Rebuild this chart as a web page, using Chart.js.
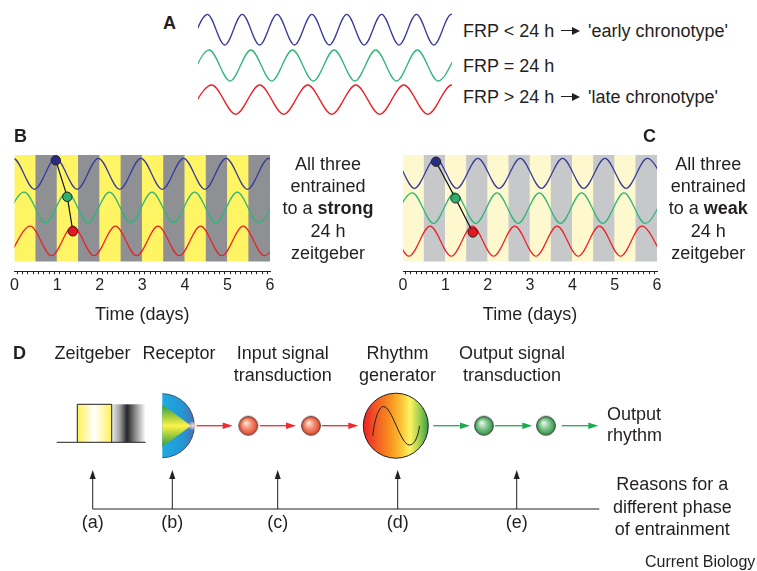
<!DOCTYPE html>
<html><head><meta charset="utf-8"><title>Entrainment of chronotypes</title>
<script src="https://cdn.jsdelivr.net/npm/chart.js@4.4.1/dist/chart.umd.min.js"></script>
<style>
html,body{margin:0;padding:0;background:#fff;}
body{width:757px;height:571px;position:relative;overflow:hidden;font-family:"Liberation Sans",Arial,Helvetica,sans-serif;color:#231f20;}
canvas{position:absolute;}
.t{position:absolute;font-size:18px;line-height:22px;white-space:nowrap;}
.blk{position:absolute;font-size:18px;line-height:22.4px;white-space:nowrap;text-align:center;width:200px;}
.b{font-weight:bold;}
.arr{position:absolute;width:19px;height:8px;}
.arr:before{content:"";position:absolute;left:0;top:3.2px;width:12px;height:1.6px;background:#231f20;}
.arr:after{content:"";position:absolute;right:0;top:0;width:0;height:0;border-left:8px solid #231f20;border-top:4px solid transparent;border-bottom:4px solid transparent;}
</style></head>
<body>
<canvas id="cA" width="254" height="112" style="left:198px;top:8px"></canvas>
<canvas id="cB" width="290" height="185" style="left:0px;top:145px"></canvas>
<canvas id="cC" width="289" height="185" style="left:388px;top:145px"></canvas>
<canvas id="cD" width="757" height="241" style="left:0px;top:330px"></canvas>

<div class="t b" style="left:163px;top:11.5px">A</div>
<div class="t" style="left:463px;top:19.5px">FRP &lt; 24 h</div>
<div class="arr" style="left:561px;top:26.5px"></div>
<div class="t" style="left:588px;top:19.5px">'early chronotype'</div>
<div class="t" style="left:463px;top:54.5px">FRP = 24 h</div>
<div class="t" style="left:463px;top:85.5px">FRP &gt; 24 h</div>
<div class="arr" style="left:561px;top:92.5px"></div>
<div class="t" style="left:588px;top:85.5px">'late chronotype'</div>

<div class="t b" style="left:14px;top:124.5px">B</div>
<div class="blk" style="left:228px;top:152.6px">All three<br>entrained<br>to a <b>strong</b><br>24 h<br>zeitgeber</div>
<div class="t b" style="left:643px;top:124.5px">C</div>
<div class="blk" style="left:608.3px;top:152.6px">All three<br>entrained<br>to a <b>weak</b><br>24 h<br>zeitgeber</div>

<div class="t b" style="left:13px;top:342px">D</div>
<div class="blk" style="left:-7.5px;top:341.9px">Zeitgeber</div>
<div class="blk" style="left:79px;top:341.9px">Receptor</div>
<div class="blk" style="left:182.7px;top:341.9px">Input signal<br>transduction</div>
<div class="blk" style="left:297.5px;top:341.9px">Rhythm<br>generator</div>
<div class="blk" style="left:412px;top:341.9px">Output signal<br>transduction</div>
<div class="t" style="left:607px;top:403.6px;line-height:21.8px">Output<br>rhythm</div>
<div class="blk" style="left:572.3px;top:473.4px;line-height:22.3px">Reasons for a<br>different phase<br>of entrainment</div>
<div class="blk" style="left:-7.3px;top:511.1px;line-height:22px">(a)</div>
<div class="blk" style="left:72.3px;top:511.1px;line-height:22px">(b)</div>
<div class="blk" style="left:177.7px;top:511.1px;line-height:22px">(c)</div>
<div class="blk" style="left:297.7px;top:511.1px;line-height:22px">(d)</div>
<div class="blk" style="left:416.7px;top:511.1px;line-height:22px">(e)</div>
<div class="t" style="left:645px;top:552.8px;font-size:16px;line-height:18px">Current Biology</div>

<script>
// ---------------- DATA ----------------
// Panel A: free-running rhythms; time in hours, successive extrema (trough first)
const aSpanHours = 146.5;
const aBlueExtremaH  = [-4.65, 5.4, 15.45, 25.5, 35.55, 45.6, 55.65, 65.7, 75.75, 85.8, 95.85, 105.9, 115.95, 126.0, 136.05, 146.1, 156.15];
const aBlueLevels    = [75, 105.7];   // [trough, peak]
const aGreenExtremaH = [-5.5, 6.5, 18.5, 30.5, 42.5, 54.5, 66.5, 78.5, 90.5, 102.5, 114.5, 126.5, 138.5, 150.5];
const aGreenLevels   = [39, 70];
const aRedExtremaH   = [-5.95, 7.9, 21.75, 35.6, 49.45, 63.3, 77.15, 91.0, 104.85, 118.7, 132.55, 146.4, 160.25];
const aRedLevels     = [5.7, 35];

// Panels B and C: time in days
const dayTicks  = [0, 1, 2, 3, 4, 5, 6];
const ldPhases  = ['L','D','L','D','L','D','L','D','L','D','L','D'];   // half-day light / dark phases
const phaseDays = 0.5;
const bandLevels = [0, 106];

// Panel B - strong zeitgeber (successive extrema, trough first)
const bBlueExtremaD  = [-0.53, -0.03, 0.47, 0.97, 1.47, 1.97, 2.47, 2.97, 3.47, 3.97, 4.47, 4.97, 5.47, 5.97, 6.47];
const bBlueLevels    = [71.7, 102.7];
const bGreenExtremaD = [-0.27, 0.23, 0.73, 1.23, 1.73, 2.23, 2.73, 3.23, 3.73, 4.23, 4.73, 5.23, 5.73, 6.23];
const bGreenLevels   = [38.5, 69];
const bRedExtremaD   = [-0.13, 0.37, 0.87, 1.37, 1.87, 2.37, 2.87, 3.37, 3.87, 4.37, 4.87, 5.37, 5.87, 6.37];
const bRedLevels     = [5.5, 35];
const bMarkerDays    = [0.97, 1.24, 1.37];
const bMarkerLevels  = [100.7, 64.2, 29.8];

// Panel C - weak zeitgeber
const cBlueExtremaD  = [-0.73, -0.23, 0.27, 0.77, 1.27, 1.77, 2.27, 2.77, 3.27, 3.77, 4.27, 4.77, 5.27, 5.77, 6.27];
const cBlueLevels    = [72.7, 102.7];
const cGreenExtremaD = [-0.28, 0.22, 0.72, 1.22, 1.72, 2.22, 2.72, 3.22, 3.72, 4.22, 4.72, 5.22, 5.72, 6.22];
const cGreenLevels   = [37.7, 68.3];
const cRedExtremaD   = [-0.86, -0.36, 0.14, 0.64, 1.14, 1.64, 2.14, 2.64, 3.14, 3.64, 4.14, 4.64, 5.14, 5.64, 6.14];
const cRedLevels     = [5, 35];
const cMarkerDays    = [0.78, 1.24, 1.65];
const cMarkerLevels  = [99.3, 62.7, 28.7];

// Panel D
const reasonLabels = ['(a)', '(b)', '(c)', '(d)', '(e)'];

// ---------------- STYLE ----------------
const FONT = '"Liberation Sans", Arial, Helvetica, sans-serif';
const INK = '#231f20';
const WAVE = {blue: '#363a98', green: '#2fb676', red: '#ec1f27'};
const MARK = {blue: '#292c85', green: '#2fae6c', red: '#e8171f'};
Chart.defaults.font.family = FONT;
Chart.defaults.color = INK;

const baseOpts = {
  responsive: false, animation: false, events: [],
  plugins: {legend: {display: false}, tooltip: {enabled: false}}
};

function waveDS(times, levels, color, width) {
  return {
    type: 'line',
    data: times.map((t, i) => ({x: t, y: levels[i % 2]})),
    borderColor: color, borderWidth: width, pointRadius: 0,
    cubicInterpolationMode: 'monotone', fill: false, order: 2
  };
}

// Panel A
new Chart(document.getElementById('cA'), {
  type: 'line',
  data: {datasets: [
    waveDS(aBlueExtremaH, aBlueLevels, WAVE.blue, 1.3),
    waveDS(aGreenExtremaH, aGreenLevels, WAVE.green, 1.3),
    waveDS(aRedExtremaH, aRedLevels, WAVE.red, 1.3)
  ]},
  options: Object.assign({}, baseOpts, {
    layout: {padding: 0, autoPadding: false},
    scales: {
      x: {type: 'linear', min: 0, max: aSpanHours, display: false},
      y: {type: 'linear', min: 0, max: 112, display: false}
    }
  })
});

const minorTicks = dayTicks.flatMap((d, i) =>
  i < dayTicks.length - 1 ? [0,1,2,3,4,5,6,7].map(k => d + k / 8) : [d]);

function entrainChart(id, bandColors, waves, markerDays, markerLevels, padLeft) {
  const datasets = [{
    type: 'bar',
    data: ldPhases.map((p, i) => ({x: (i + 0.5) * phaseDays, y: bandLevels})),
    backgroundColor: ldPhases.map(p => p === 'L' ? bandColors.light : bandColors.dark),
    borderWidth: 0, barThickness: 'flex', barPercentage: 1, categoryPercentage: 1,
    order: 3
  }];
  waves.forEach(w => datasets.push(waveDS(w[0], w[1], w[2], 1.25)));
  datasets.push({
    type: 'line',
    data: markerDays.map((d, i) => ({x: d, y: markerLevels[i]})),
    borderColor: '#111', borderWidth: 1.2, tension: 0,
    pointRadius: 4.7, pointBorderWidth: 1, pointBorderColor: '#2a2020',
    pointBackgroundColor: [MARK.blue, MARK.green, MARK.red],
    order: 1
  });
  return new Chart(document.getElementById(id), {
    type: 'line',
    data: {datasets},
    options: Object.assign({}, baseOpts, {
      layout: {padding: {left: padLeft, right: 20, top: 10, bottom: 0}, autoPadding: false},
      scales: {
        x: {
          type: 'linear', min: 0, max: 6, offset: false,
          afterBuildTicks: s => { s.ticks = minorTicks.map(v => ({value: v})); },
          ticks: {autoSkip: false, maxRotation: 0, minRotation: 0, padding: 2, color: INK,
                  font: {family: FONT, size: 16},
                  callback: v => dayTicks.includes(v) ? String(v) : ''},
          grid: {display: true, drawOnChartArea: false, drawTicks: true, tickLength: 3,
                 color: INK, lineWidth: 1},
          border: {display: true, color: INK, width: 1},
          title: {display: true, text: 'Time (days)', color: INK,
                  font: {family: FONT, size: 18}, padding: {top: 7, bottom: 4}}
        },
        y: {type: 'linear', min: -10, max: 106, display: false}
      }
    })
  });
}

entrainChart('cB', {light: '#fff564', dark: '#8f9094'}, [
  [bBlueExtremaD, bBlueLevels, WAVE.blue],
  [bGreenExtremaD, bGreenLevels, WAVE.green],
  [bRedExtremaD, bRedLevels, WAVE.red]
], bMarkerDays, bMarkerLevels, 14.5);

entrainChart('cC', {light: '#fdf8cd', dark: '#c7c8ca'}, [
  [cBlueExtremaD, cBlueLevels, WAVE.blue],
  [cGreenExtremaD, cGreenLevels, WAVE.green],
  [cRedExtremaD, cRedLevels, WAVE.red]
], cMarkerDays, cMarkerLevels, 15);

// Panel D: schematic pathway
const dLayout = {
  baseY: 425.7,
  zeit: {x0: 56.7, x1: 77.3, x2: 111.7, x3: 145.7, top: 404.3, bottom: 442.3},
  receptor: {cx: 162.3, r: 32, wedgeTop: 404.5, wedgeBottom: 447, tip: 191},
  redArrows: [[196.7, 232.7], [260, 296], [321.7, 358.3]],
  inputNodes: [248.3, 311],
  clock: {cx: 395.8, r: 32.5},
  greenArrows: [[433.3, 470], [495, 532.3], [561.7, 598.3]],
  outputNodes: [484, 546],
  reasonY: 509, reasonTipY: 470, reasonX0: 92.7, reasonX1: 599.3,
  reasonX: [92.7, 172.3, 277.7, 397.7, 516.7]
};

function sphere(c0, c1, c2) {
  const s = 24, cv = document.createElement('canvas');
  cv.width = s; cv.height = s;
  const g = cv.getContext('2d'), c = s / 2, r = 9.4;
  const grad = g.createRadialGradient(c - 2.5, c - 3, 0.5, c, c, r);
  grad.addColorStop(0, c0); grad.addColorStop(0.5, c1); grad.addColorStop(1, c2);
  g.beginPath(); g.arc(c, c, r, 0, Math.PI * 2);
  g.fillStyle = grad; g.fill();
  g.lineWidth = 0.9; g.strokeStyle = '#3a2a2a'; g.stroke();
  return cv;
}
const redSphere = sphere('#fde6da', '#f28b70', '#e0462c');
const greenSphere = sphere('#eaf6eb', '#80c68d', '#2b9549');

const diagramPlugin = {
  id: 'diagram',
  beforeDatasetsDraw(chart) {
    const ctx = chart.ctx;
    const X = v => chart.scales.x.getPixelForValue(v);
    const Y = v => chart.scales.y.getPixelForValue(v);
    const L = dLayout, by = Y(L.baseY);
    ctx.save();
    // zeitgeber pulse
    const z = L.zeit;
    let g = ctx.createLinearGradient(X(z.x1), 0, X(z.x2), 0);
    g.addColorStop(0, '#fff25a'); g.addColorStop(0.5, '#ffffff'); g.addColorStop(0.85, '#fff58a'); g.addColorStop(1, '#fff25a');
    ctx.fillStyle = g; ctx.fillRect(X(z.x1), Y(z.top), X(z.x2) - X(z.x1), Y(z.bottom) - Y(z.top));
    g = ctx.createLinearGradient(X(z.x2), 0, X(z.x3), 0);
    g.addColorStop(0, '#eeeeee'); g.addColorStop(0.25, '#9a9a9a'); g.addColorStop(0.45, '#262626');
    g.addColorStop(0.7, '#8c8c8c'); g.addColorStop(1, '#ffffff');
    ctx.fillStyle = g; ctx.fillRect(X(z.x2), Y(z.top), X(z.x3) - X(z.x2), Y(z.bottom) - Y(z.top));
    ctx.strokeStyle = INK; ctx.lineWidth = 1;
    ctx.beginPath();
    ctx.moveTo(X(z.x0), Y(z.bottom)); ctx.lineTo(X(z.x1), Y(z.bottom)); ctx.lineTo(X(z.x1), Y(z.top));
    ctx.lineTo(X(z.x2), Y(z.top)); ctx.lineTo(X(z.x2), Y(z.bottom));
    ctx.moveTo(X(z.x1), Y(z.bottom)); ctx.lineTo(X(z.x3), Y(z.bottom));
    ctx.stroke();
    // receptor
    const rc = L.receptor, rx = X(rc.cx);
    ctx.beginPath(); ctx.moveTo(rx, by - rc.r); ctx.arc(rx, by, rc.r, -Math.PI / 2, Math.PI / 2); ctx.closePath();
    g = ctx.createLinearGradient(rx, 0, rx + rc.r, 0);
    g.addColorStop(0, '#1eaae2'); g.addColorStop(0.6, '#2398d6'); g.addColorStop(1, '#4d72b6');
    ctx.fillStyle = g; ctx.fill();
    ctx.beginPath(); ctx.arc(rx, by, rc.r, -Math.PI / 2, Math.PI / 2);
    ctx.strokeStyle = '#33363d'; ctx.lineWidth = 0.8; ctx.stroke();
    ctx.beginPath(); ctx.moveTo(rx, Y(rc.wedgeTop)); ctx.lineTo(X(rc.tip), by); ctx.lineTo(rx, Y(rc.wedgeBottom)); ctx.closePath();
    g = ctx.createLinearGradient(0, Y(rc.wedgeTop), 0, Y(rc.wedgeBottom));
    g.addColorStop(0, '#2e9a47'); g.addColorStop(0.3, '#a8cf3c'); g.addColorStop(0.5, '#fff34a');
    g.addColorStop(0.7, '#a8cf3c'); g.addColorStop(1, '#2e9a47');
    ctx.fillStyle = g; ctx.fill();
    g = ctx.createRadialGradient(X(rc.tip) + 2, by, 0, X(rc.tip) + 2, by, 6);
    g.addColorStop(0, 'rgba(255,235,230,0.95)'); g.addColorStop(1, 'rgba(255,200,200,0)');
    ctx.fillStyle = g; ctx.beginPath(); ctx.ellipse(X(rc.tip) + 2, by, 6, 4, 0, 0, Math.PI * 2); ctx.fill();
    // arrows
    function arrowH(x1, x2, color) {
      ctx.strokeStyle = color; ctx.fillStyle = color; ctx.lineWidth = 1.3;
      ctx.beginPath(); ctx.moveTo(X(x1), by); ctx.lineTo(X(x2) - 8, by); ctx.stroke();
      ctx.beginPath(); ctx.moveTo(X(x2), by); ctx.lineTo(X(x2) - 10, by - 3.3); ctx.lineTo(X(x2) - 10, by + 3.3); ctx.closePath(); ctx.fill();
    }
    L.redArrows.forEach(a => arrowH(a[0], a[1], '#ee2a2f'));
    L.greenArrows.forEach(a => arrowH(a[0], a[1], '#1faa52'));
    // rhythm generator
    const ck = L.clock, cx = X(ck.cx);
    g = ctx.createLinearGradient(cx - ck.r, 0, cx + ck.r, 0);
    g.addColorStop(0, '#ec2227'); g.addColorStop(0.2, '#f15a24'); g.addColorStop(0.42, '#f7931e');
    g.addColorStop(0.6, '#fcc83a'); g.addColorStop(0.72, '#fff463'); g.addColorStop(0.86, '#a6cf4e'); g.addColorStop(1, '#2f9f47');
    ctx.beginPath(); ctx.arc(cx, by, ck.r, 0, Math.PI * 2); ctx.fillStyle = g; ctx.fill();
    ctx.strokeStyle = INK; ctx.lineWidth = 1; ctx.stroke();
    ctx.beginPath();
    ctx.moveTo(X(372.7), Y(436));
    ctx.bezierCurveTo(X(374.5), Y(420), X(378.5), Y(406.5), X(383.5), Y(406.5));
    ctx.bezierCurveTo(X(392), Y(406.5), X(400.5), Y(445), X(409.5), Y(445));
    ctx.bezierCurveTo(X(414), Y(445), X(418), Y(438), X(419.5), Y(426));
    ctx.strokeStyle = '#231f20'; ctx.lineWidth = 1; ctx.stroke();
    // reasons
    ctx.strokeStyle = INK; ctx.fillStyle = INK; ctx.lineWidth = 1;
    ctx.beginPath(); ctx.moveTo(X(L.reasonX0), Y(L.reasonY)); ctx.lineTo(X(L.reasonX1), Y(L.reasonY)); ctx.stroke();
    L.reasonX.forEach(x => {
      ctx.beginPath(); ctx.moveTo(X(x), Y(L.reasonY)); ctx.lineTo(X(x), Y(L.reasonTipY) + 6); ctx.stroke();
      ctx.beginPath(); ctx.moveTo(X(x), Y(L.reasonTipY)); ctx.lineTo(X(x) - 3, Y(L.reasonTipY) + 9);
      ctx.lineTo(X(x) + 3, Y(L.reasonTipY) + 9); ctx.closePath(); ctx.fill();
    });
    ctx.restore();
  }
};

new Chart(document.getElementById('cD'), {
  type: 'scatter',
  data: {datasets: [
    {data: dLayout.inputNodes.map(x => ({x, y: dLayout.baseY})), pointStyle: redSphere, pointRadius: 10, clip: false},
    {data: dLayout.outputNodes.map(x => ({x, y: dLayout.baseY})), pointStyle: greenSphere, pointRadius: 10, clip: false}
  ]},
  options: Object.assign({}, baseOpts, {
    layout: {padding: 0, autoPadding: false},
    scales: {
      x: {type: 'linear', min: 0, max: 757, display: false},
      y: {type: 'linear', min: 330, max: 571, reverse: true, display: false}
    }
  }),
  plugins: [diagramPlugin]
});
</script>
</body></html>
